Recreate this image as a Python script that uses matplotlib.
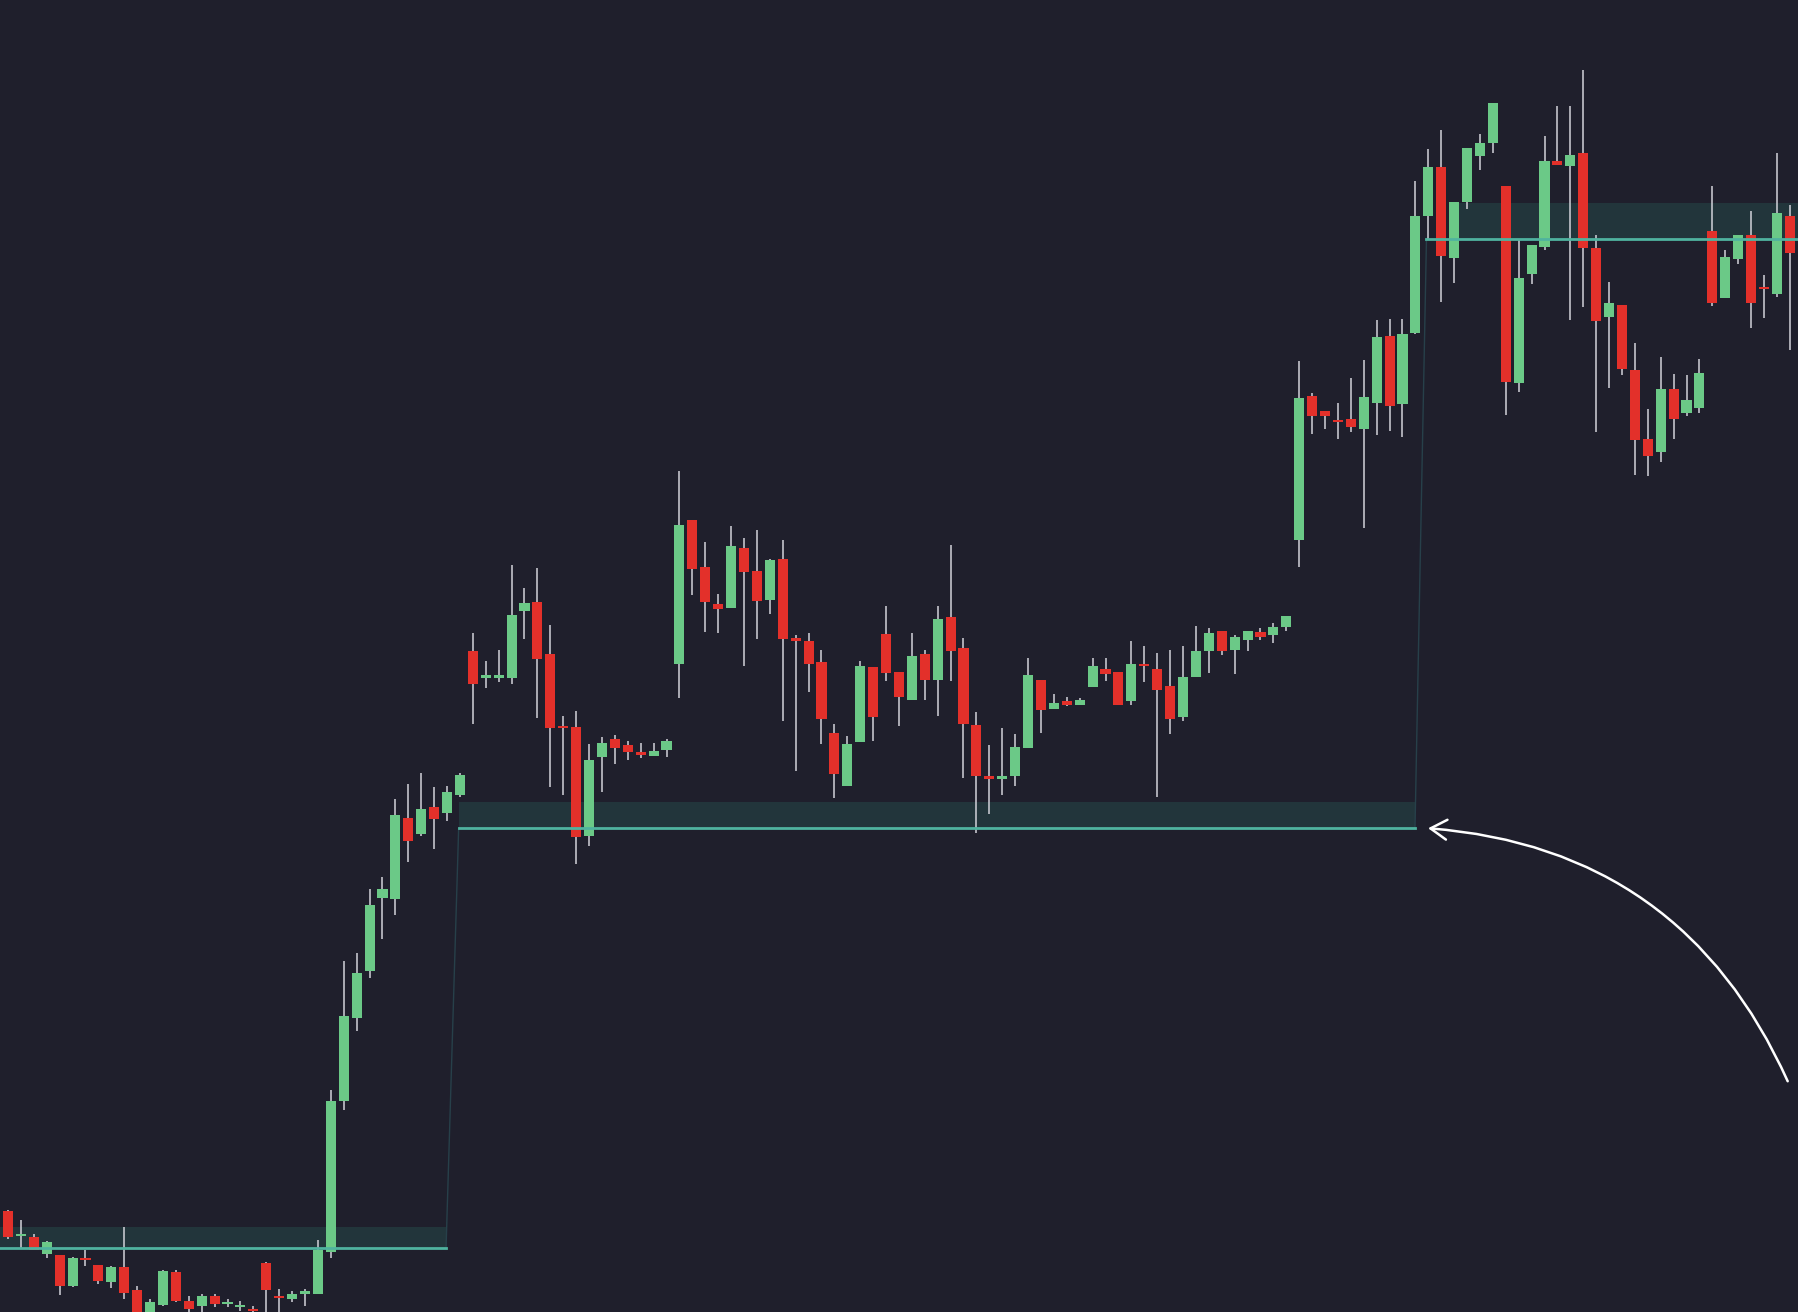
import matplotlib
matplotlib.use("Agg")
import matplotlib.pyplot as plt
from matplotlib.patches import Rectangle, FancyArrowPatch

# Candle data in chart level units (screen-level; smaller = higher price, axis inverted)
opens = [1056,1077,1079,1093,1094,1121,1097,1103,1118,1105,1125,1150,1138,1109,1134,1139,1130,1137,1140,1141,1101,1130,1133,1128,1128,1092,960,888,847,783,784,713,727,704,709,693,
         568,591,591,591,533,525,570,633,634,729,660,644,650,656,659,654,579,453,494,527,530,478,498,523,487,556,559,577,639,685,647,582,553,586,
         610,570,593,538,565,632,677,679,677,652,593,618,611,615,599,583,586,611,579,583,598,625,590,568,550,567,558,551,554,547,471,
         345,358,366,365,374,351,293,352,290,188,146,225,176,136,125,162,334,239,215,140,145,133,216,276,266,323,383,394,339,360,356,201,260,226,205,250,256,188,200]
highs = [1055,1064,1076,1082,1094,1096,1090,1103,1104,1070,1121,1133,1107,1107,1130,1128,1128,1133,1134,1139,1100,1124,1126,1124,1081,950,838,831,775,765,697,684,674,686,685,674,
         552,576,567,493,513,495,545,624,620,649,643,641,646,648,648,644,411,453,473,518,459,469,462,487,471,554,552,567,631,642,576,582,528,586,
         552,567,528,475,556,621,650,635,640,574,593,605,608,609,574,574,586,559,563,569,567,563,546,548,550,554,550,548,543,537,315,
         343,358,351,330,314,279,278,278,158,130,113,176,129,117,90,162,209,214,119,92,92,61,205,246,266,299,357,311,326,327,313,162,218,205,184,240,133,179,150]
lows = [1080,1089,1090,1097,1129,1122,1104,1120,1123,1133,1150,1150,1139,1135,1150,1145,1140,1140,1143,1150,1150,1150,1135,1139,1128,1097,968,899,853,819,798,752,729,740,716,695,
        631,600,595,596,557,626,686,693,753,738,691,666,663,661,659,660,609,519,551,552,530,581,557,535,629,672,603,649,696,685,647,646,594,633,
        610,610,624,594,678,726,710,693,685,652,639,618,616,615,599,594,615,615,595,695,640,629,590,587,571,588,568,558,561,550,494,
        378,374,383,377,460,379,376,381,291,208,263,247,182,148,133,362,342,248,218,144,279,268,377,338,327,414,415,403,383,363,360,267,260,230,286,277,259,305,210]
closes = [1079,1076,1090,1083,1121,1097,1099,1117,1105,1127,1146,1135,1108,1134,1141,1130,1137,1135,1138,1143,1125,1132,1128,1126,1090,960,886,848,789,775,711,733,705,714,691,676,
          596,589,589,536,526,575,635,635,730,663,648,652,656,658,655,646,458,496,525,531,476,499,524,488,557,559,579,627,675,649,581,625,587,608,
          572,593,540,568,631,677,679,677,651,589,619,613,615,610,581,588,615,579,581,602,627,590,568,552,568,555,550,555,547,537,347,
          363,363,368,372,346,294,354,291,188,146,223,176,129,125,90,333,242,214,140,144,135,216,280,264,322,384,398,339,365,349,325,264,224,205,264,252,186,221,160]

# Zones: (line start, band start, end, band top, line level)
zone_line_x0 = [0, 400, 1244]
zone_band_x0 = [0, 400, 1272]
zone_x1 = [389, 1234, 1568]
zone_top = [1070, 699, 177]
zone_line = [1088, 722, 208]

BG = "#1f1f2c"
GREEN = "#6bc987"
RED = "#e3302a"
WICK = "#d2d2da"

fig = plt.figure(figsize=(17.98, 13.12), dpi=100, facecolor=BG)
ax = fig.add_axes([0, 0, 1, 1])
ax.set_facecolor(BG)
ax.set_xlim(0, 1568)
ax.set_ylim(1144, 0)
ax.axis("off")

for i in range(len(zone_x1)):
    ax.add_patch(Rectangle((zone_band_x0[i], zone_top[i]), zone_x1[i] - zone_band_x0[i],
                           zone_line[i] - zone_top[i], facecolor="#22353b", edgecolor="none", zorder=1))
    ax.plot([zone_line_x0[i], zone_x1[i]], [zone_line[i], zone_line[i]], color="#4fb39f", lw=2, zorder=4)
for i in range(len(zone_x1) - 1):
    ax.plot([zone_x1[i], zone_line_x0[i + 1]], [zone_line[i], zone_line[i + 1]], color="#27404a", lw=1, zorder=1)

spacing = 11.26
x0 = 7
w = 8.8
for i in range(len(opens)):
    x = x0 + i * spacing
    o, h, l, c = opens[i], highs[i], lows[i], closes[i]
    col = RED if c > o else GREEN
    ax.plot([x, x], [h, l], color=WICK, lw=1.1, zorder=2, solid_capstyle="butt")
    top = min(o, c)
    hgt = max(abs(c - o), 1.8)
    ax.add_patch(Rectangle((x - w / 2, top), w, hgt, facecolor=col, edgecolor="none", zorder=3))

arrow = FancyArrowPatch((1560, 945), (1243, 722), connectionstyle="arc3,rad=0.3",
                        arrowstyle="->,head_length=0.9,head_width=0.55", color="white",
                        lw=1.8, mutation_scale=13, zorder=5)
ax.add_patch(arrow)

fig.savefig("out.png", dpi=100, facecolor=BG)
